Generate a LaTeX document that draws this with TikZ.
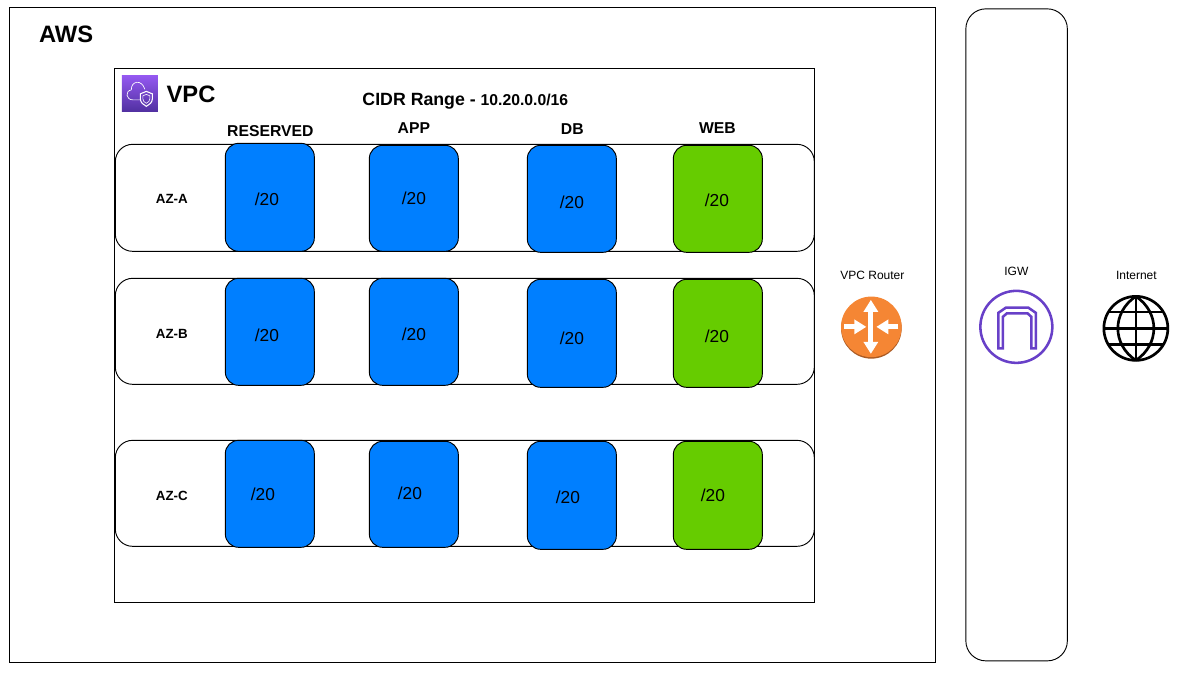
\documentclass[tikz,border=0pt]{standalone}
\usepackage{fontspec}
\setmainfont{Liberation Sans}
\usepackage{xcolor}
\usetikzlibrary{
    positioning,
    arrows.meta,
    calc
}
\definecolor{subnetBlue}{RGB}{0, 127, 255}
\definecolor{subnetGreen}{RGB}{102, 204, 0}
\definecolor{routerOrange}{RGB}{245, 134, 52}
\definecolor{routerRim}{RGB}{170, 90, 35}
\definecolor{igwPurple}{RGB}{104, 64, 200}
\definecolor{vpcTop}{RGB}{148, 88, 240}
\definecolor{vpcBottom}{RGB}{80, 48, 160}
\tikzset{
    subnetbox/.style={draw=black, line width=0.7pt, rounded corners=10pt, anchor=north west, inner sep=0pt},
    azrow/.style={draw=black, line width=0.7pt, rounded corners=13pt, anchor=north west, inner sep=0pt, minimum width=524.25pt},
    tier/.style={font=\bfseries\fontsize{11.8}{14}\selectfont},
    azlabel/.style={font=\bfseries\fontsize{10}{12}\selectfont},
    mask/.style={font=\fontsize{13}{15}\selectfont},
    small/.style={font=\fontsize{9}{11}\selectfont},
    routertip/.style={white, line width=3.75pt},
    routerarrow/.style={routertip, -{Triangle[length=9pt, width=10.5pt]}}
}
\begin{document}
\begin{tikzpicture}[x=0.75pt, y=-0.75pt]
    \useasboundingbox (0.15,0.15) rectangle (1181.15,676.15);
    % outer boxes
    \draw[line width=0.7pt] (10,8) rectangle (935.5,662.5);
    \draw[line width=0.7pt, rounded corners=15pt] (966,9) rectangle (1067.5,661);
    \draw[line width=0.7pt] (115,69) rectangle (814.4,602.5);
    \node[anchor=west, inner sep=0pt, font=\bfseries\fontsize{17.8}{20}\selectfont] (aws) at (39,34) {AWS};
    \node[anchor=west, inner sep=0pt, font=\bfseries\fontsize{17.8}{20}\selectfont] (vpc) at (166.5,94.5) {VPC};
    \node[inner sep=0pt, font=\bfseries\fontsize{13.3}{15}\selectfont] (cidr) at (465.5,101.5) {CIDR Range - {\fontsize{11.8}{15}\selectfont 10.20.0.0/16}};
    % az rows
    \foreach \nm/\y/\h in {A/144/107, B/278/106, C/440/106} {
        \node[azrow, minimum height=\h*0.75pt] (az\nm) at (115,\y) {};
    }
    \node[azlabel] (labA) at (172,199.5) {AZ-A};
    \node[azlabel] (labB) at (172,334.5) {AZ-B};
    \node[azlabel] (labC) at (172,496.5) {AZ-C};
    % tier labels
    \node[tier] (res) at (270.5,131.5) {RESERVED};
    \node[tier] (app) at (414,128.5) {APP};
    \node[tier] (db) at (572.5,129.5) {DB};
    \node[tier] (web) at (717.5,128.5) {WEB};
    % subnets
    \foreach \nm/\x/\y/\h/\col/\tx/\ty in {
        ra/225/143/108/subnetBlue/267/199.5, aa/369/145/106/subnetBlue/414/198.5,
        da/527/145/107/subnetBlue/572/202.5, wa/673/145/107/subnetGreen/717/200.5,
        rb/225/278/107/subnetBlue/267/335.5, ab/369/278/107/subnetBlue/414/334.5,
        db/527/279/108/subnetBlue/572/338.5, wb/673/279/108/subnetGreen/717/336.5,
        rc/225/440/107/subnetBlue/263/494.5, ac/369/441/106/subnetBlue/410/493.5,
        dc/527/441/108/subnetBlue/568/497.5, wc/673/441/108/subnetGreen/713/495.5} {
        \node[subnetbox, fill=\col, minimum width=66.75pt, minimum height=\h*0.75pt] (s\nm) at (\x,\y) {};
        \node[mask] (t\nm) at (\tx,\ty) {/20};
    }
    % vpc icon
    \shade[bottom color=vpcBottom, top color=vpcTop] (122,76) rectangle (158,112);
    \draw[white, line width=0.5pt] (140,100) -- (133,100)
        .. controls (126,100) and (125,91) .. (131.5,90)
        .. controls (131,81) and (142,79) .. (145,89.5);
    \draw[white, line width=0.8pt] (146.5,91.5) -- (152.5,94) -- (152.5,99)
        .. controls (152.5,102.5) and (149.5,105) .. (146.5,106.5)
        .. controls (143.5,105) and (140.5,102.5) .. (140.5,99) -- (140.5,94) -- cycle;
    \draw[white, line width=0.45pt] (146.5,94.5) -- (150,96) -- (150,99)
        .. controls (150,101) and (148.5,102.5) .. (146.5,103.5)
        .. controls (144.5,102.5) and (143,101) .. (143,99) -- (143,96) -- cycle;
    % router
    \node[small] (routerlab) at (872.5,275.5) {VPC Router};
    \fill[routerRim] (871.5,328.5) circle[radius=30.3];
    \fill[routerOrange] (871.5,327) circle[radius=30.3];
    \draw[routertip, {Triangle[length=9pt, width=10.5pt]}-{Triangle[length=9pt, width=10.5pt]}] (871,300) -- (871,354);
    \draw[routerarrow] (844.5,327) -- (866.5,327);
    \draw[routerarrow] (898.5,327) -- (876.5,327);
    % igw
    \node[small] (igwlab) at (1016.5,271.5) {IGW};
    \draw[igwPurple, line width=1.9pt] (1016.5,327) circle[radius=36];
    \draw[igwPurple, line width=1.9pt, line join=miter]
        (998.5,348.5) -- (998.5,313) -- (1006,307.8) -- (1028.5,307.8) -- (1036,313) -- (1036,348.5)
        -- (1031.5,348.5) -- (1031.5,317) -- (1027.7,313.5) -- (1007,313.5) -- (1003,317) -- (1003,348.5) -- cycle;
    % internet
    \node[small] (netlab) at (1136.5,275.5) {Internet};
    \begin{scope}[shift={(1136,328.5)}, line width=2pt]
        \draw (0,0) circle[radius=32];
        \draw (0,-32) .. controls (-24,-16) and (-24,16) .. (0,32);
        \draw (0,-32) .. controls (24,-16) and (24,16) .. (0,32);
        \draw (0,-32) -- (0,32);
        \draw (-32,0) -- (32,0);
        \draw (-27.5,-16.5) -- (27.5,-16.5);
        \draw (-27.5,16) -- (27.5,16);
    \end{scope}
\end{tikzpicture}
\end{document}
